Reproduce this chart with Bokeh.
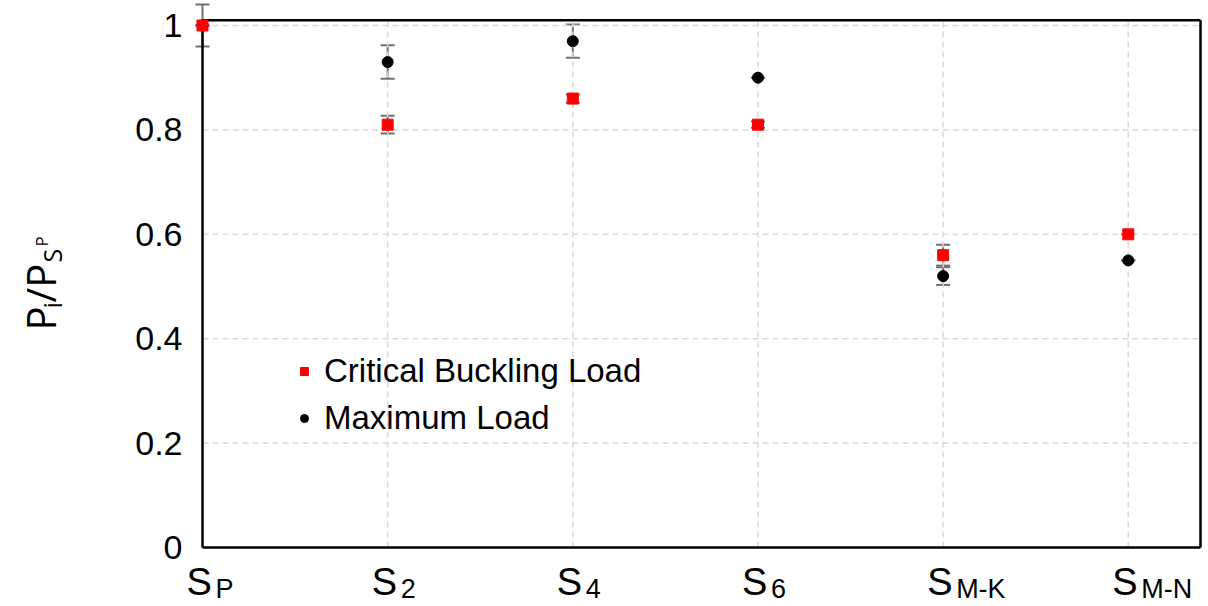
from bokeh.plotting import figure
from bokeh.models import Whisker, ColumnDataSource, Legend, LegendItem, Range1d
from bokeh.core.properties import value
from bokeh.embed import file_html
from bokeh.resources import INLINE

cats = ["P", "2", "4", "6", "M-K", "M-N"]
xs = [0, 1, 2, 3, 4, 5]
crit = [1.0, 0.81, 0.86, 0.81, 0.56, 0.60]
crit_err = [0.0, 0.017, 0.008, 0.006, 0.02, 0.0]
maxl = [1.0, 0.93, 0.97, 0.90, 0.52, 0.55]
max_err = [0.04, 0.032, 0.032, 0.0, 0.017, 0.0]
yticks = [0, 0.2, 0.4, 0.6, 0.8, 1.0]
ytick_labels = ["0", "0.2", "0.4", "0.6", "0.8", "1"]

XMAX, YMAX = 5.39, 1.01
W, H = 1206, 604
M = 0
FL, FR, FB = 202, 1200, 547
ppu = (FR - FL) / XMAX
ppy = 522.0
x0 = -(FL - M) / ppu
y1 = (FB - M) / ppy
y0 = -(M + H - FB) / ppy

p = figure(width=W, height=H, output_backend="svg", toolbar_location=None,
           x_range=Range1d(x0, x0 + W / ppu), y_range=Range1d(y0, y1),
           min_border_left=0, min_border_top=0, min_border_bottom=0, min_border_right=0)
p.axis.visible = False
p.grid.visible = False
p.outline_line_color = None

p.segment(x0=xs, y0=[0] * 6, x1=xs, y1=[YMAX] * 6, line_color="#d9d9d9", line_dash="6 4", line_width=1.5)
p.segment(x0=[0] * 6, y0=yticks, x1=[XMAX] * 6, y1=yticks, line_color="#d9d9d9", line_dash="6 4", line_width=1.5)
p.segment(x0=[0, XMAX, 0, 0], y0=[0, 0, 0, YMAX], x1=[0, XMAX, XMAX, XMAX], y1=[YMAX, YMAX, 0, YMAX],
          line_color="black", line_width=2.5)

src = ColumnDataSource(dict(x=xs, c=crit, m=maxl,
                            cl=[a - b for a, b in zip(crit, crit_err)], cu=[a + b for a, b in zip(crit, crit_err)],
                            ml=[a - b for a, b in zip(maxl, max_err)], mu=[a + b for a, b in zip(maxl, max_err)]))
for lo, up in (("ml", "mu"), ("cl", "cu")):
    w = Whisker(base="x", lower=lo, upper=up, source=src, line_color="#707070", line_width=2)
    w.upper_head.line_color = "#707070"; w.lower_head.line_color = "#707070"
    w.upper_head.size = 14; w.lower_head.size = 14
    w.upper_head.line_width = 2; w.lower_head.line_width = 2
    p.add_layout(w)
rm = p.scatter("x", "m", source=src, marker="circle", size=11, color="black")
rc = p.scatter("x", "c", source=src, marker="square", size=11, color="#ff0000")

leg = Legend(items=[LegendItem(label="Critical Buckling Load", renderers=[rc]),
                    LegendItem(label="Maximum Load", renderers=[rm])],
             location=(294, 167), border_line_color=None, background_fill_alpha=0,
             label_text_font="Liberation Sans", label_text_font_size="33px", label_text_color="black",
             glyph_width=20, label_standoff=10, spacing=9)
p.add_layout(leg, "center")

p.text(x=[0] * 6, y=yticks, text=ytick_labels, x_offset=-20, text_font=value("Liberation Sans"),
       text_font_size="34px", text_align="right", text_baseline="middle", text_color="black")

p.text(x=xs, y=[0] * 6, text=["S"] * 6, x_offset=-16, y_offset=34, text_font=value("Liberation Sans"),
       text_font_size="38px", text_baseline="alphabetic", text_align="left", text_color="black")
p.text(x=xs, y=[0] * 6, text=cats, x_offset=13, y_offset=41, text_font=value("Liberation Sans"),
       text_font_size="27px", text_baseline="alphabetic", text_align="left", text_color="black")

xl = x0 + (40 - M) / ppu
parts = [("P", 0, 330, "40px"), ("i", 11, 308, "25px"), ("/P", 0, 302, "40px"),
         ("S", 11, 262, "25px"), ("P", 1, 246, "17px")]
for t, dx, py, s in parts:
    p.text(x=[xl], y=[(FB - py) / ppy], text=[t], x_offset=dx, angle=1.5708,
           text_font=value("Open Sans"), text_font_size=s,
           text_baseline="alphabetic", text_align="left", text_color="black")

open("out.html", "w").write(file_html(p, INLINE))
